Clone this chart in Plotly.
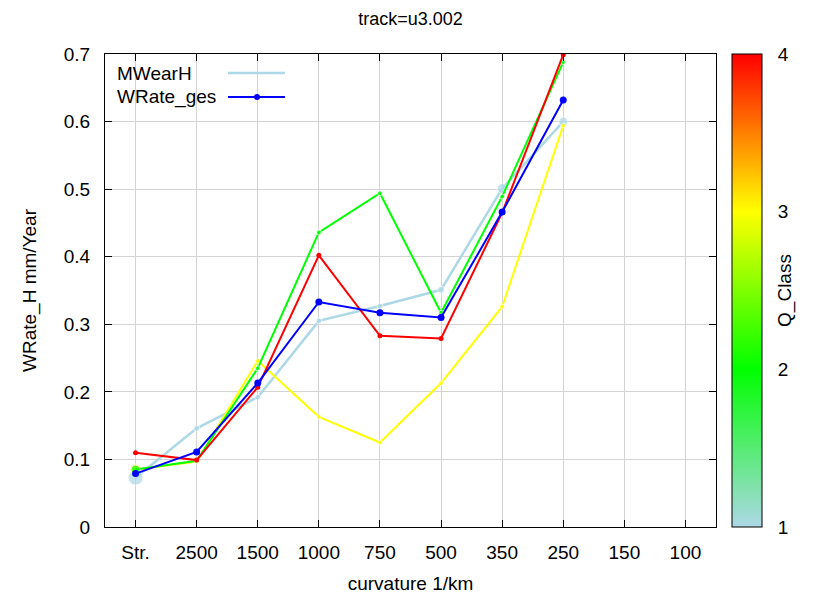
import plotly.graph_objects as go

# ---------------- data ----------------
categories = ["Str.", "2500", "1500", "1000", "750", "500", "350", "250", "150", "100"]
mwearh = [0.073, 0.146, 0.192, 0.305, 0.327, 0.351, 0.501, 0.600]
q_class2 = [0.085, 0.098, 0.235, 0.436, 0.494, 0.317, 0.489, 0.688]
q_class3 = [0.085, 0.097, 0.246, 0.163, 0.125, 0.213, 0.326, 0.594]
q_class4 = [0.110, 0.099, 0.207, 0.402, 0.283, 0.279, 0.465, 0.699]
wrate_ges = [0.079, 0.111, 0.213, 0.333, 0.317, 0.310, 0.466, 0.632]
y_ticks = [0, 0.1, 0.2, 0.3, 0.4, 0.5, 0.6, 0.7]
cbar_ticks = [1, 2, 3, 4]

# ---------------- style ----------------
FONT = "Liberation Sans, Arial, sans-serif"
FS = 19
LIGHTBLUE = "#add8e6"
GREEN = "#00ff00"
YELLOW = "#ffff00"
RED = "#ff0000"
BLUE = "#0000ff"
lb_sizes = [15, 6, 6, 6, 6, 7, 10, 9]
y_sizes = [11, 5, 5, 5, 5, 5, 5, 5]
g_sizes = [9, 5, 5, 5, 5, 5, 5, 5]

W, H = 817, 595
ML, MR, MT, MB = 105, 101, 54, 68
PW, PH = W - ML - MR, H - MT - MB


def px_x(px):
    return (px - ML) / PW


def px_y(py):
    return (H - MB - py) / PH


x_used = categories[:len(mwearh)]

fig = go.Figure()

fig.add_trace(go.Scatter(x=x_used, y=mwearh, mode="lines+markers", name="MWearH",
                         line=dict(color=LIGHTBLUE, width=2.5),
                         marker=dict(color=LIGHTBLUE, size=lb_sizes), showlegend=False))
fig.add_trace(go.Scatter(x=x_used, y=q_class3, mode="lines+markers", name="Q3",
                         line=dict(color=YELLOW, width=2),
                         marker=dict(color=YELLOW, size=y_sizes), showlegend=False))
fig.add_trace(go.Scatter(x=x_used, y=q_class2, mode="lines+markers", name="Q2",
                         line=dict(color=GREEN, width=2),
                         marker=dict(color=GREEN, size=g_sizes), showlegend=False))
fig.add_trace(go.Scatter(x=x_used, y=q_class4, mode="lines+markers", name="Q4",
                         line=dict(color=RED, width=2),
                         marker=dict(color=RED, size=5), showlegend=False))
fig.add_trace(go.Scatter(x=x_used, y=wrate_ges, mode="lines+markers", name="WRate_ges",
                         line=dict(color=BLUE, width=2),
                         marker=dict(color=BLUE, size=7), showlegend=False))

# colorbar carrier
cb_left = 732
cb_thick = 30
fig.add_trace(go.Scatter(
    x=[categories[0], categories[0]], y=[None, None], mode="markers", hoverinfo="skip",
    showlegend=False,
    marker=dict(size=0, color=[1, 4], cmin=1, cmax=4, showscale=True,
                colorscale=[[0, LIGHTBLUE], [1/3, GREEN], [2/3, YELLOW], [1, RED]],
                colorbar=dict(x=px_x(cb_left), xanchor="left", xpad=0, ypad=0,
                              y=0.5, yanchor="middle",
                              len=1, lenmode="fraction", thickness=cb_thick,
                              outlinecolor="black", outlinewidth=1,
                              tickvals=cbar_ticks, ticktext=[str(t) for t in cbar_ticks],
                              ticks="outside", ticklen=12, tickcolor="rgba(0,0,0,0)",
                              tickfont=dict(family=FONT, size=FS, color="black"),
                              title=dict(text="Q_Class", side="right",
                                         font=dict(family=FONT, size=FS, color="black"))))))

# inside tick marks on colorbar (gnuplot style, dashed)
for v in cbar_ticks[1:-1]:
    yy = (v - cbar_ticks[0]) / (cbar_ticks[-1] - cbar_ticks[0])
    for xa, xb in [(cb_left, cb_left + 8), (cb_left + cb_thick - 8, cb_left + cb_thick)]:
        fig.add_shape(type="line", xref="paper", yref="paper", x0=px_x(xa), x1=px_x(xb),
                      y0=yy, y1=yy, line=dict(color="#333333", width=1, dash="3px,2px"))

# manual gnuplot-style legend (text left, sample right)
fig.add_annotation(xref="paper", yref="paper", x=px_x(115), y=px_y(73), xanchor="left", yanchor="middle",
                   text="MWearH", showarrow=False, font=dict(family=FONT, size=FS, color="black"))
fig.add_annotation(xref="paper", yref="paper", x=px_x(115), y=px_y(97), xanchor="left", yanchor="middle",
                   text="WRate_ges", showarrow=False, font=dict(family=FONT, size=FS, color="black"))
fig.add_shape(type="line", xref="paper", yref="paper", x0=px_x(228), x1=px_x(285), y0=px_y(73), y1=px_y(73),
              line=dict(color=LIGHTBLUE, width=2.5))
fig.add_shape(type="line", xref="paper", yref="paper", x0=px_x(228), x1=px_x(285), y0=px_y(97), y1=px_y(97),
              line=dict(color=BLUE, width=2))
fig.add_trace(go.Scatter(x=[px_x(257)], y=[px_y(97)], xaxis="x2", yaxis="y2", mode="markers",
                         marker=dict(color=BLUE, size=6), showlegend=False, hoverinfo="skip"))

fig.update_layout(
    width=W, height=H,
    margin=dict(l=ML, r=MR, t=MT, b=MB, autoexpand=False),
    paper_bgcolor="white", plot_bgcolor="white",
    font=dict(family=FONT, size=FS, color="black"),
    title=dict(text="track=u3.002", x=0.5, xref="paper", xanchor="center",
               y=1 - 19 / H, yanchor="middle",
               font=dict(family=FONT, size=FS - 1, color="black")),
    xaxis=dict(categoryorder="array", categoryarray=categories, type="category",
               range=[-0.5, len(categories) - 0.5],
               showgrid=True, gridcolor="#d3d3d3", gridwidth=1,
               showline=True, linecolor="black", linewidth=1, mirror="ticks",
               ticks="inside", ticklen=7, tickcolor="black", ticklabelstandoff=8,
               tickfont=dict(family=FONT, size=FS), zeroline=False,
               title=dict(text="curvature 1/km", font=dict(family=FONT, size=FS), standoff=14)),
    yaxis=dict(range=[0, 0.7], tickvals=y_ticks, ticktext=["0" if v == 0 else f"{v:.1f}" for v in y_ticks],
               showgrid=True, gridcolor="#d3d3d3", gridwidth=1,
               showline=True, linecolor="black", linewidth=1, mirror="ticks",
               ticks="inside", ticklen=7, tickcolor="black", ticklabelstandoff=10,
               tickfont=dict(family=FONT, size=FS), zeroline=False,
               title=dict(text="WRate_H mm/Year", font=dict(family=FONT, size=FS), standoff=22)),
    xaxis2=dict(range=[0, 1], overlaying="x", visible=False),
    yaxis2=dict(range=[0, 1], overlaying="y", visible=False),
)

fig.write_html("out.html")
